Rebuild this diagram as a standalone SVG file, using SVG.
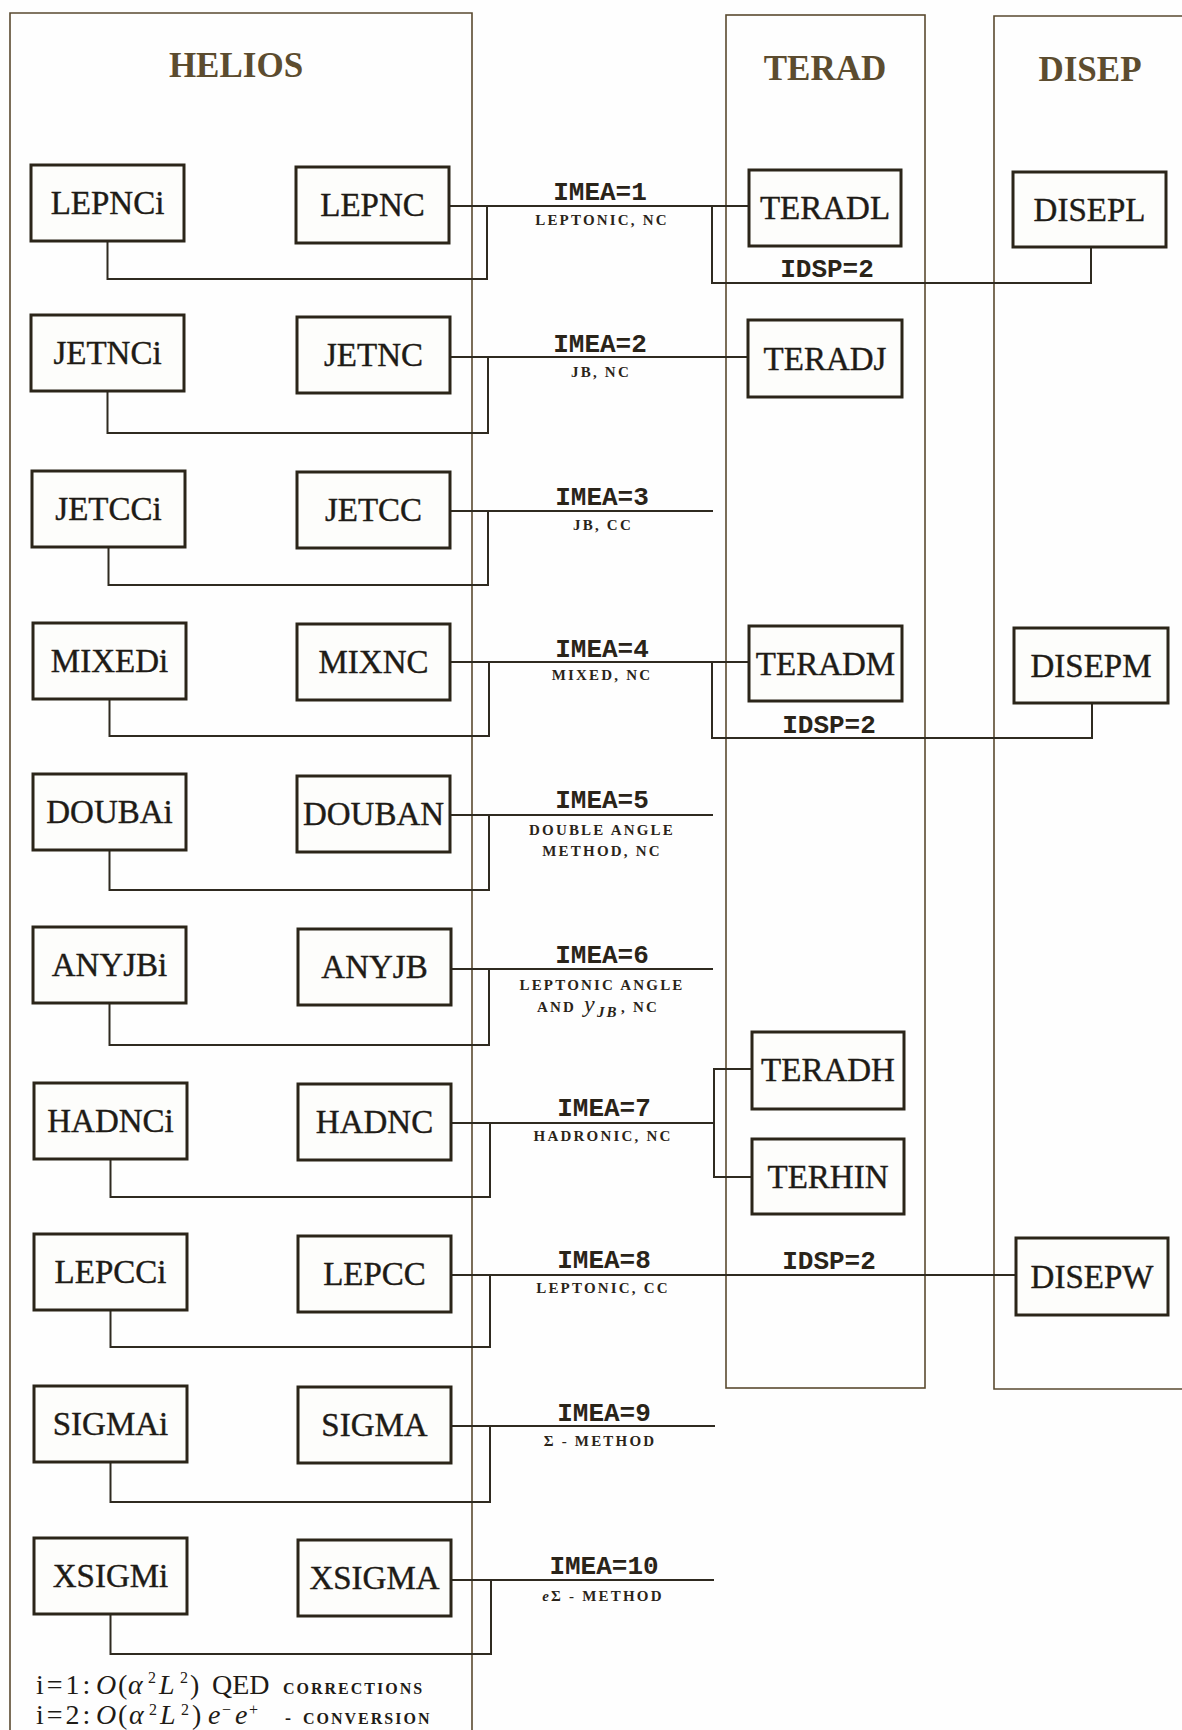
<svg xmlns="http://www.w3.org/2000/svg" width="1182" height="1730" viewBox="0 0 1182 1730">
<style>
.frame{fill:none;stroke:#5a4a30;stroke-width:1.6}
.box{fill:#fdfdfb;stroke:#2b2519;stroke-width:3}
.conn{fill:none;stroke:#2f2a20;stroke-width:2}
.title{font-family:"Liberation Serif",serif;font-weight:bold;font-size:35px;fill:#5c4c2f;text-anchor:middle}
.lbl{font-family:"Liberation Serif",serif;font-size:33px;fill:#1e1b16;stroke:#1e1b16;stroke-width:0.4;text-anchor:middle}
.imea{font-family:"Liberation Mono",monospace;font-weight:bold;font-size:26px;fill:#2a2419;text-anchor:middle}
.sub{font-family:"Liberation Serif",serif;font-weight:bold;font-size:15px;letter-spacing:2.2px;fill:#2a2419;text-anchor:middle}
.subs{font-family:"Liberation Serif",serif;font-weight:bold;font-size:15px;letter-spacing:2.2px;fill:#2a2419}
.leg{font-family:"Liberation Serif",serif;font-size:28px;fill:#1e1b16}
</style>
<rect x="0" y="0" width="1182" height="1730" fill="#fefefe"/>

<g id="frames">
<path class="frame" d="M10 1730 V13 H472 V1730"/>
<rect class="frame" x="726" y="15" width="199" height="1373"/>
<path class="frame" d="M1190 16 H994 V1389 H1190"/>
<text class="title" x="236" y="77">HELIOS</text>
<text class="title" x="825" y="80">TERAD</text>
<text class="title" x="1090" y="81">DISEP</text>
</g>

<g id="connectors">
<path class="conn" d="M449 206 H748"/>
<path class="conn" d="M487 206 V279 H107.5 V241"/>
<path class="conn" d="M712 206 V283 H1091 V247"/>
<path class="conn" d="M450 357 H748"/>
<path class="conn" d="M488 357 V433 H107.5 V391"/>
<path class="conn" d="M450 511 H713"/>
<path class="conn" d="M488 511 V585 H108.5 V547"/>
<path class="conn" d="M450 662 H749"/>
<path class="conn" d="M489 662 V736 H109.5 V699"/>
<path class="conn" d="M712 662 V738 H1092 V703"/>
<path class="conn" d="M450 815 H713"/>
<path class="conn" d="M489 815 V890 H109.5 V850"/>
<path class="conn" d="M451 969 H713"/>
<path class="conn" d="M489 969 V1045 H109.5 V1003"/>
<path class="conn" d="M451 1123 H714"/>
<path class="conn" d="M490 1123 V1197 H110.5 V1159"/>
<path class="conn" d="M752 1069 H714 V1177 H752"/>
<path class="conn" d="M451 1275 H1016"/>
<path class="conn" d="M490 1275 V1347 H110.5 V1310"/>
<path class="conn" d="M451 1426 H715"/>
<path class="conn" d="M490 1426 V1502 H110.5 V1462"/>
<path class="conn" d="M451 1580 H714"/>
<path class="conn" d="M491 1580 V1654 H110.5 V1614"/>
</g>

<g id="labels">
<text class="imea" x="600" y="200">IMEA=1</text>
<text class="sub" x="602" y="225">LEPTONIC, NC</text>
<text class="imea" x="600" y="352">IMEA=2</text>
<text class="sub" x="601" y="377">JB, NC</text>
<text class="imea" x="602" y="505">IMEA=3</text>
<text class="sub" x="603" y="530">JB, CC</text>
<text class="imea" x="602" y="657">IMEA=4</text>
<text class="sub" x="602" y="680">MIXED, NC</text>
<text class="imea" x="602" y="808">IMEA=5</text>
<text class="sub" x="602" y="835">DOUBLE ANGLE</text>
<text class="sub" x="602" y="856">METHOD, NC</text>
<text class="imea" x="602" y="963">IMEA=6</text>
<text class="sub" x="602" y="990">LEPTONIC ANGLE</text>
<text class="subs" y="1012"><tspan x="537">AND</tspan><tspan x="584" font-family="Liberation Serif" font-style="italic" font-weight="normal" font-size="24" letter-spacing="0">y</tspan><tspan x="597" dy="5" font-style="italic" letter-spacing="2">JB</tspan><tspan x="621" dy="-5">, NC</tspan></text>
<text class="imea" x="604" y="1116">IMEA=7</text>
<text class="sub" x="603" y="1141">HADRONIC, NC</text>
<text class="imea" x="604" y="1268">IMEA=8</text>
<text class="sub" x="603" y="1293">LEPTONIC, CC</text>
<text class="imea" x="604" y="1421">IMEA=9</text>
<text class="sub" x="600" y="1446">Σ - METHOD</text>
<text class="imea" x="604" y="1574">IMEA=10</text>
<text class="sub" x="603" y="1601"><tspan font-style="italic">e</tspan>Σ - METHOD</text>
<text class="imea" x="827" y="277">IDSP=2</text>
<text class="imea" x="829" y="733">IDSP=2</text>
<text class="imea" x="829" y="1269">IDSP=2</text>
</g>

<g id="LEPNCi"><rect class="box" x="31" y="165" width="153" height="76"/><text class="lbl" x="107.5" y="214">LEPNCi</text></g>
<g id="LEPNC"><rect class="box" x="296" y="167" width="153" height="76"/><text class="lbl" x="372.5" y="216">LEPNC</text></g>
<g id="JETNCi"><rect class="box" x="31" y="315" width="153" height="76"/><text class="lbl" x="107.5" y="364">JETNCi</text></g>
<g id="JETNC"><rect class="box" x="297" y="317" width="153" height="76"/><text class="lbl" x="373.5" y="366">JETNC</text></g>
<g id="JETCCi"><rect class="box" x="32" y="471" width="153" height="76"/><text class="lbl" x="108.5" y="520">JETCCi</text></g>
<g id="JETCC"><rect class="box" x="297" y="472" width="153" height="76"/><text class="lbl" x="373.5" y="521">JETCC</text></g>
<g id="MIXEDi"><rect class="box" x="33" y="623" width="153" height="76"/><text class="lbl" x="109.5" y="672">MIXEDi</text></g>
<g id="MIXNC"><rect class="box" x="297" y="624" width="153" height="76"/><text class="lbl" x="373.5" y="673">MIXNC</text></g>
<g id="DOUBAi"><rect class="box" x="33" y="774" width="153" height="76"/><text class="lbl" x="109.5" y="823">DOUBAi</text></g>
<g id="DOUBAN"><rect class="box" x="297" y="776" width="153" height="76"/><text class="lbl" x="373.5" y="825">DOUBAN</text></g>
<g id="ANYJBi"><rect class="box" x="33" y="927" width="153" height="76"/><text class="lbl" x="109.5" y="976">ANYJBi</text></g>
<g id="ANYJB"><rect class="box" x="298" y="929" width="153" height="76"/><text class="lbl" x="374.5" y="978">ANYJB</text></g>
<g id="HADNCi"><rect class="box" x="34" y="1083" width="153" height="76"/><text class="lbl" x="110.5" y="1132">HADNCi</text></g>
<g id="HADNC"><rect class="box" x="298" y="1084" width="153" height="76"/><text class="lbl" x="374.5" y="1133">HADNC</text></g>
<g id="LEPCCi"><rect class="box" x="34" y="1234" width="153" height="76"/><text class="lbl" x="110.5" y="1283">LEPCCi</text></g>
<g id="LEPCC"><rect class="box" x="298" y="1236" width="153" height="76"/><text class="lbl" x="374.5" y="1285">LEPCC</text></g>
<g id="SIGMAi"><rect class="box" x="34" y="1386" width="153" height="76"/><text class="lbl" x="110.5" y="1435">SIGMAi</text></g>
<g id="SIGMA"><rect class="box" x="298" y="1387" width="153" height="76"/><text class="lbl" x="374.5" y="1436">SIGMA</text></g>
<g id="XSIGMi"><rect class="box" x="34" y="1538" width="153" height="76"/><text class="lbl" x="110.5" y="1587">XSIGMi</text></g>
<g id="XSIGMA"><rect class="box" x="298" y="1540" width="153" height="76"/><text class="lbl" x="374.5" y="1589">XSIGMA</text></g>

<g id="TERADL"><rect class="box" x="749" y="170" width="152" height="76"/><text class="lbl" x="825" y="219">TERADL</text></g>
<g id="TERADJ"><rect class="box" x="748" y="320" width="154" height="77"/><text class="lbl" x="825" y="370">TERADJ</text></g>
<g id="TERADM"><rect class="box" x="749" y="626" width="153" height="75"/><text class="lbl" x="825.5" y="675">TERADM</text></g>
<g id="TERADH"><rect class="box" x="752" y="1032" width="152" height="77"/><text class="lbl" x="828" y="1081">TERADH</text></g>
<g id="TERHIN"><rect class="box" x="752" y="1139" width="152" height="75"/><text class="lbl" x="828" y="1188">TERHIN</text></g>
<g id="DISEPL"><rect class="box" x="1013" y="172" width="153" height="75"/><text class="lbl" x="1089.5" y="221">DISEPL</text></g>
<g id="DISEPM"><rect class="box" x="1014" y="628" width="154" height="75"/><text class="lbl" x="1091" y="677">DISEPM</text></g>
<g id="DISEPW"><rect class="box" x="1016" y="1238" width="152" height="77"/><text class="lbl" x="1092" y="1288">DISEPW</text></g>

<g id="legend">
<text class="leg" y="1694"><tspan x="36" letter-spacing="3">i=1:</tspan><tspan x="96" font-style="italic">O</tspan><tspan x="118">(</tspan><tspan x="128" font-style="italic">α</tspan><tspan x="148" dy="-11" font-size="16">2</tspan><tspan x="159" dy="11" font-style="italic">L</tspan><tspan x="180" dy="-11" font-size="16">2</tspan><tspan x="190" dy="11">)</tspan><tspan x="212">QED</tspan><tspan x="283" font-size="16" font-weight="bold" letter-spacing="2">CORRECTIONS</tspan></text>
<text class="leg" y="1724"><tspan x="36" letter-spacing="3">i=2:</tspan><tspan x="96" font-style="italic">O</tspan><tspan x="118">(</tspan><tspan x="129" font-style="italic">α</tspan><tspan x="149" dy="-9" font-size="16">2</tspan><tspan x="160" dy="9" font-style="italic">L</tspan><tspan x="181" dy="-9" font-size="16">2</tspan><tspan x="192" dy="9">)</tspan><tspan x="208" font-style="italic">e</tspan><tspan x="222" dy="-9" font-size="16">−</tspan><tspan x="235" dy="9" font-style="italic">e</tspan><tspan x="249" dy="-9" font-size="16">+</tspan><tspan x="285" dy="9" font-size="18" font-weight="bold">-</tspan><tspan x="303" font-size="16" font-weight="bold" letter-spacing="2">CONVERSION</tspan></text>
</g>
</svg>
